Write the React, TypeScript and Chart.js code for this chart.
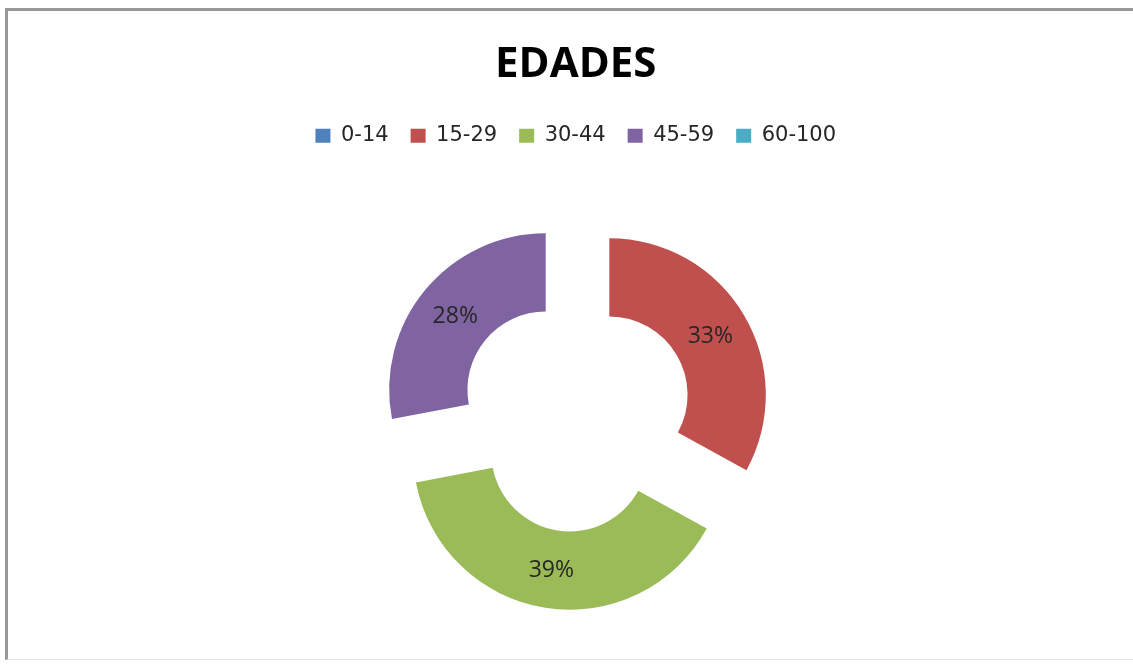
import React, { useEffect, useRef } from 'react';
import { Chart, registerables } from 'chart.js';

Chart.register(...registerables);

// ---- data ----
const categories: string[] = ['0-14', '15-29', '30-44', '45-59', '60-100'];
const values: number[] = [0, 33, 39, 28, 0];
const colors: string[] = ['#4F81BD', '#C0504D', '#9BBB59', '#8064A2', '#4BACC6'];
const titleText = 'EDADES';

// ---- styles ----
const EXPLODE = 39; // explosion distance of each slice (px)
const LABEL_FONT = "23px 'Open Sans', sans-serif";
const LABEL_COLOR = '#262626';

const explodePlugin = {
  id: 'explodeSlices',
  beforeDatasetDraw(chart: any, args: any) {
    const ctx = chart.ctx;
    args.meta.data.forEach((arc: any) => {
      if (!arc.circumference) return;
      const mid = (arc.startAngle + arc.endAngle) / 2;
      ctx.save();
      ctx.translate(Math.cos(mid) * EXPLODE, Math.sin(mid) * EXPLODE);
      arc.draw(ctx);
      ctx.restore();
    });
    return false;
  },
};

const labelPlugin = {
  id: 'sliceLabels',
  afterDatasetsDraw(chart: any) {
    const ctx = chart.ctx;
    const meta = chart.getDatasetMeta(0);
    const data = chart.data.datasets[0].data as number[];
    const total = data.reduce((a, b) => a + b, 0);
    ctx.save();
    ctx.font = LABEL_FONT;
    ctx.fillStyle = LABEL_COLOR;
    ctx.textAlign = 'center';
    ctx.textBaseline = 'middle';
    meta.data.forEach((arc: any, i: number) => {
      const v = data[i];
      if (!v) return;
      const mid = (arc.startAngle + arc.endAngle) / 2;
      const rm = (arc.innerRadius + arc.outerRadius) / 2 + EXPLODE;
      ctx.fillText(
        Math.round((v / total) * 100) + '%',
        arc.x + Math.cos(mid) * rm,
        arc.y + Math.sin(mid) * rm + 1
      );
    });
    ctx.restore();
  },
};

export default function App() {
  const canvasRef = useRef<HTMLCanvasElement | null>(null);

  useEffect(() => {
    if (!canvasRef.current) return;
    const chart = new Chart(canvasRef.current, {
      type: 'doughnut',
      data: {
        labels: categories,
        datasets: [
          {
            data: values,
            backgroundColor: colors,
            borderWidth: 0,
            hoverOffset: 0,
          },
        ],
      },
      options: {
        responsive: false,
        devicePixelRatio: 1,
        animation: false,
        cutout: '50%',
        layout: { padding: { left: 18.5, right: 0, top: 0, bottom: 93.85 } },
        plugins: {
          title: {
            display: true,
            text: titleText,
            color: '#000000',
            font: { family: "'Open Sans', sans-serif", size: 42, weight: 'bold', lineHeight: 1.2 },
            padding: { top: 40, bottom: 12.8 },
          },
          legend: {
            display: true,
            position: 'top',
            weight: 1800,
            labels: {
              boxWidth: 15,
              boxHeight: 14,
              padding: 22,
              color: '#262626',
              font: { family: "'DejaVu Sans', sans-serif", size: 21 },
            },
          } as any,
          subtitle: {
            display: true,
            text: '',
            font: { size: 10, lineHeight: 1.2 },
            padding: { top: 0, bottom: 89.95 },
          },
          tooltip: { enabled: false },
        },
      },
      plugins: [explodePlugin, labelPlugin],
    });
    return () => chart.destroy();
  }, []);

  return (
    <div
      style={{
        position: 'fixed',
        left: 0,
        top: 0,
        width: 1133,
        height: 665,
        background: '#ffffff',
        overflow: 'hidden',
      }}
    >
      <div
        style={{
          position: 'absolute',
          left: 5,
          top: 8,
          width: 1200,
          height: 648,
          borderTop: '3px solid #999999',
          borderLeft: '3px solid #999999',
          borderBottom: '1px solid #e2e2e2',
        }}
      />
      <canvas
        ref={canvasRef}
        width={1133}
        height={665}
        style={{ position: 'absolute', left: 0, top: 0 }}
      />
    </div>
  );
}
